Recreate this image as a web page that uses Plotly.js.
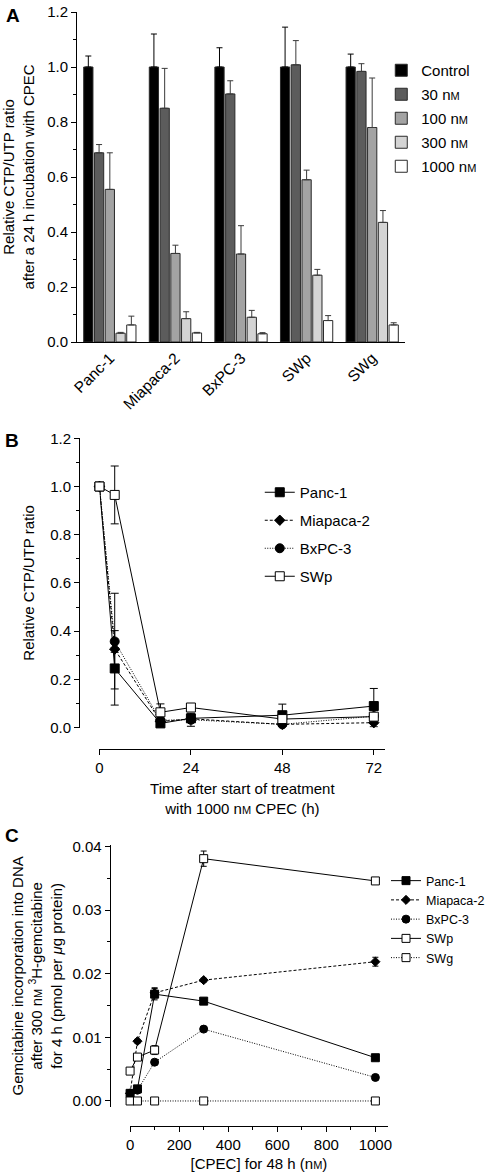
<!DOCTYPE html>
<html>
<head>
<meta charset="utf-8">
<script src="https://cdn.plot.ly/plotly-3.0.1.min.js"></script>
<style>html,body{margin:0;padding:0;background:#fff;}#chart{width:490px;height:1174px;}</style>
</head>
<body>
<div id="chart"></div>
<script>
// ---------- Panel A data ----------
const cellLines = ['Panc-1', 'Miapaca-2', 'BxPC-3', 'SWp', 'SWg'];
const doseLabels = ['Control', '30 nM', '100 nM', '300 nM', '1000 nM'];
const ctrlVals = [1.00, 1.00, 1.00, 1.00, 1.00];
const ctrlErr = [0.04, 0.12, 0.07, 0.145, 0.047];
const d30Vals = [0.688, 0.85, 0.902, 1.008, 0.984];
const d30Err = [0.03, 0.145, 0.048, 0.088, 0.028];
const d100Vals = [0.555, 0.322, 0.32, 0.59, 0.78];
const d100Err = [0.133, 0.03, 0.103, 0.035, 0.18];
const d300Vals = [0.032, 0.085, 0.09, 0.243, 0.435];
const d300Err = [0.003, 0.025, 0.025, 0.021, 0.043];
const d1000Vals = [0.062, 0.033, 0.03, 0.078, 0.062];
const d1000Err = [0.032, 0.002, 0.004, 0.018, 0.008];

// ---------- Panel B data ----------
const timeH = [0, 4, 16, 24, 48, 72];
const bPanc = [1.0, 0.245, 0.017, 0.038, 0.051, 0.089];
const bPancErr = [0, 0.085, 0.008, 0.008, 0.046, 0.073];
const bMia = [1.0, 0.325, 0.025, 0.036, 0.013, 0.02];
const bMiaErr = [0, 0.232, 0.008, 0.008, 0.006, 0.017];
const bBx = [1.0, 0.357, 0.03, 0.032, 0.013, 0.047];
const bBxErr = [0, 0.045, 0.008, 0.027, 0.006, 0.012];
const bSWp = [1.0, 0.965, 0.063, 0.083, 0.035, 0.045];
const bSWpErr = [0, 0.12, 0.035, 0.008, 0.006, 0.01];

// ---------- Panel C data ----------
const cpec = [0, 30, 100, 300, 1000];
const cPanc = [0.0012, 0.0019, 0.0168, 0.0157, 0.0068];
const cPancErr = [0.0003, 0.0003, 0.0009, 0.0003, 0.0003];
const cMia = [0.0012, 0.0094, 0.0170, 0.0190, 0.0219];
const cMiaErr = [0.0002, 0.0003, 0.0008, 0.0003, 0.0007];
const cBx = [0.0012, 0.0017, 0.0061, 0.0113, 0.0037];
const cBxErr = [0.0002, 0.0002, 0.0003, 0.0003, 0.0002];
const cSWp = [0.0047, 0.0069, 0.0080, 0.0381, 0.0346];
const cSWpErr = [0.0004, 0.0003, 0.0007, 0.0012, 0.0003];
const cSWg = [0, 0, 0, 0, 0];
const cSWgErr = [0, 0, 0, 0, 0];

// ---------- helpers ----------
const W = 490, H = 1174;
const px = v => v / W;
const py = v => 1 - v / H;
const FONT = 'Liberation Sans, Arial, Helvetica, sans-serif';
const nM = s => s.replace('nM', 'n<span style="font-size:11px">M</span>');

const barColors = ['#000000', '#5c5c5c', '#a3a3a3', '#d4d4d4', '#ffffff'];
const barVals = [ctrlVals, d30Vals, d100Vals, d300Vals, d1000Vals];
const barErrs = [ctrlErr, d30Err, d100Err, d300Err, d1000Err];

const traces = [];
doseLabels.forEach((lab, i) => {
  traces.push({
    type: 'bar', x: cellLines, y: barVals[i], name: nM(lab),
    xaxis: 'x', yaxis: 'y', legend: 'legend', legendgroup: 'a' + i,
    marker: {color: barColors[i], line: {color: '#2a2a2a', width: 1}},
    error_y: {type: 'data', symmetric: false, array: barErrs[i],
      arrayminus: barErrs[i].map(() => 0), color: i === 0 ? '#000' : '#3a3a3a',
      thickness: 1, width: 3},
    hoverinfo: 'skip'
  });
});

const lineSpecs = [
  {name: 'Panc-1', dash: 'solid', sym: 'square', fill: '#000', sB: 9, sC: 8},
  {name: 'Miapaca-2', dash: '3px,2px', sym: 'diamond', fill: '#000', sB: 8, sC: 7},
  {name: 'BxPC-3', dash: '1px,1.5px', sym: 'circle', fill: '#000', sB: 9, sC: 8},
  {name: 'SWp', dash: 'solid', sym: 'square', fill: '#fff', sB: 9, sC: 8},
  {name: 'SWg', dash: '1px,1.5px', sym: 'square', fill: '#fff', sB: 9, sC: 8}
];
const bSeries = [[bPanc, bPancErr], [bMia, bMiaErr], [bBx, bBxErr], [bSWp, bSWpErr]];
const cSeries = [[cPanc, cPancErr], [cMia, cMiaErr], [cBx, cBxErr], [cSWp, cSWpErr], [cSWg, cSWgErr]];

bSeries.forEach((s, i) => {
  const sp = lineSpecs[i];
  traces.push({
    type: 'scatter', mode: 'lines+markers', x: timeH, y: s[0], name: sp.name,
    xaxis: 'x2', yaxis: 'y2', legend: 'legend2', legendgroup: 'b' + i, cliponaxis: false,
    line: {color: '#000', width: 1, dash: sp.dash},
    marker: {symbol: sp.sym, size: sp.sB, color: sp.fill, line: {color: '#000', width: 1}},
    error_y: {type: 'data', array: s[1], color: '#000', thickness: 1, width: 4},
    hoverinfo: 'skip'
  });
});

cSeries.forEach((s, i) => {
  const sp = lineSpecs[i];
  traces.push({
    type: 'scatter', mode: 'lines+markers', x: cpec, y: s[0], name: sp.name,
    xaxis: 'x3', yaxis: 'y3', legend: 'legend3', legendgroup: 'c' + i, cliponaxis: false,
    line: {color: '#000', width: 1, dash: sp.dash},
    marker: {symbol: sp.sym, size: sp.sC, color: sp.fill, line: {color: '#000', width: 1}},
    error_y: {type: 'data', array: s[1], color: '#000', thickness: 1, width: 3},
    hoverinfo: 'skip'
  });
});

const axBase = {
  showline: true, linecolor: '#000', linewidth: 1, ticks: 'outside', ticklen: 5,
  tickcolor: '#000', tickwidth: 1, showgrid: false, zeroline: false, automargin: false,
  tickfont: {family: FONT, size: 15, color: '#000'}, fixedrange: true
};
const minor = d => ({dtick: d, ticks: 'outside', ticklen: 3, tickcolor: '#000', tickwidth: 1, showgrid: false});

const layout = {
  width: W, height: H, margin: {l: 0, r: 0, t: 0, b: 0},
  paper_bgcolor: '#fff', plot_bgcolor: 'rgba(0,0,0,0)',
  font: {family: FONT, size: 15, color: '#000'},
  barmode: 'group', bargap: 0.18, bargroupgap: 0.14,
  showlegend: true,
  xaxis: Object.assign({}, axBase, {
    domain: [px(78), px(410)], anchor: 'y', type: 'category', ticks: '',
    tickangle: -45, tickfont: {family: FONT, size: 15.5, color: '#000'}
  }),
  yaxis: Object.assign({}, axBase, {
    domain: [py(342), py(12)], anchor: 'x', range: [0, 1.2], dtick: 0.2, tickformat: '.1f',
    minor: minor(0.1),
    title: {text: 'Relative CTP/UTP ratio<br>after a 24 h incubation with CPEC',
      font: {family: FONT, size: 15, color: '#000'}, standoff: 10}
  }),
  xaxis2: Object.assign({}, axBase, {
    domain: [px(100.7), px(390)], anchor: 'free', position: py(749), range: [0, 75],
    tickvals: [0, 24, 48, 72],
    title: {text: 'Time after start of treatment<br>with 1000 n<span style="font-size:11px">M</span> CPEC (h)',
      font: {family: FONT, size: 15, color: '#000'}, standoff: 8}
  }),
  yaxis2: Object.assign({}, axBase, {
    domain: [py(727.5), py(438.3)], anchor: 'free', position: px(80), range: [0, 1.2],
    dtick: 0.2, tickformat: '.1f', minor: minor(0.1),
    title: {text: 'Relative CTP/UTP ratio', font: {family: FONT, size: 15, color: '#000'}, standoff: 10}
  }),
  xaxis3: Object.assign({}, axBase, {
    domain: [px(131.7), px(392.7)], anchor: 'free', position: py(1125.7), range: [0, 1051],
    dtick: 200, minor: minor(100),
    title: {text: '[CPEC] for 48 h (n<span style="font-size:11px">M</span>)',
      font: {family: FONT, size: 15, color: '#000'}, standoff: 6}
  }),
  yaxis3: Object.assign({}, axBase, {
    domain: [py(1106.7), py(845)], anchor: 'free', position: px(111), range: [-0.0009, 0.04025],
    tickvals: [0, 0.01, 0.02, 0.03, 0.04], ticktext: ['0.00', '0.01', '0.02', '0.03', '0.04'],
    minor: {tickvals: [0.005, 0.015, 0.025, 0.035], ticks: 'outside', ticklen: 3, tickcolor: '#000'},
    title: {text: 'Gemcitabine incorporation into DNA<br>after 300 n<span style="font-size:11px">M</span> <sup>3</sup>H-gemcitabine<br>for 4 h (pmol per <i>μ</i>g protein)',
      font: {family: FONT, size: 15, color: '#000'}, standoff: 5}
  }),
  legend: {x: px(386), y: py(54), xanchor: 'left', yanchor: 'top', bgcolor: 'rgba(0,0,0,0)',
    font: {family: FONT, size: 15, color: '#000'}, tracegroupgap: 1.5, traceorder: 'grouped', itemclick: false},
  legend2: {x: px(263), y: py(476), xanchor: 'left', yanchor: 'top', bgcolor: 'rgba(0,0,0,0)',
    font: {family: FONT, size: 15, color: '#000'}, tracegroupgap: 5.5, traceorder: 'grouped', itemclick: false},
  legend3: {x: px(391), y: py(866), xanchor: 'left', yanchor: 'top', bgcolor: 'rgba(0,0,0,0)',
    font: {family: FONT, size: 12.5, color: '#000'}, tracegroupgap: 0, traceorder: 'grouped', itemclick: false},
  annotations: [
    {text: '<b>A</b>', x: px(4), y: py(3), xref: 'paper', yref: 'paper', xanchor: 'left', yanchor: 'top', showarrow: false, font: {family: FONT, size: 19, color: '#000'}},
    {text: '<b>B</b>', x: px(3), y: py(428), xref: 'paper', yref: 'paper', xanchor: 'left', yanchor: 'top', showarrow: false, font: {family: FONT, size: 19, color: '#000'}},
    {text: '<b>C</b>', x: px(3), y: py(823), xref: 'paper', yref: 'paper', xanchor: 'left', yanchor: 'top', showarrow: false, font: {family: FONT, size: 19, color: '#000'}}
  ]
};

Plotly.newPlot('chart', traces, layout, {staticPlot: true, displayModeBar: false});
</script>
</body>
</html>
